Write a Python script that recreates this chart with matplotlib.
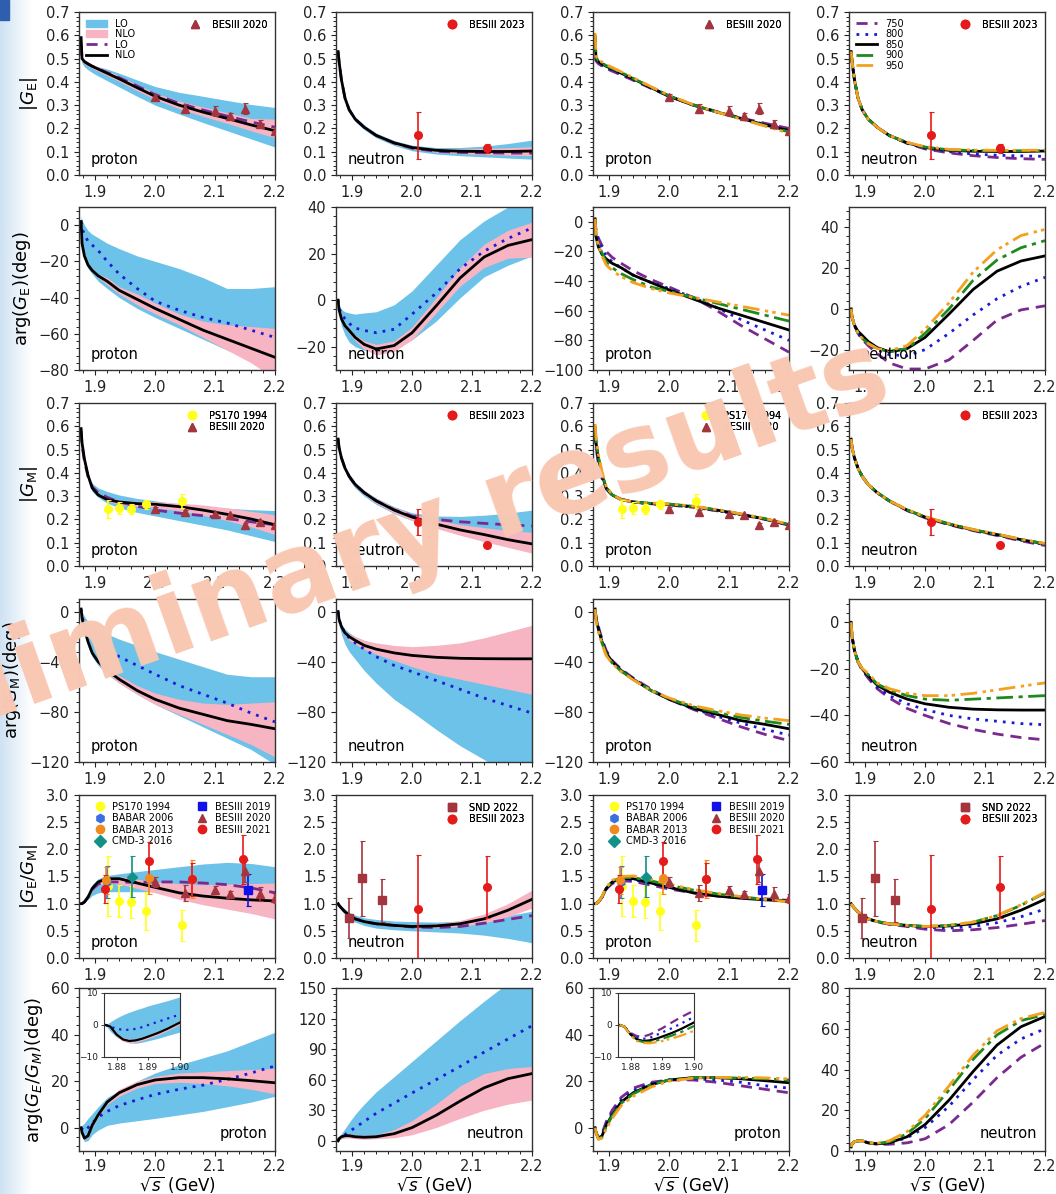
import matplotlib.pyplot as plt
import numpy as np
from matplotlib.lines import Line2D
from matplotlib.patches import Patch, Rectangle
from matplotlib.ticker import AutoMinorLocator

plt.rcParams['font.family'] = ['DejaVu Sans']

# energy nodes (GeV) where the model curves are tabulated
sqrt_s = [1.8765, 1.878, 1.882, 1.888, 1.895, 1.905, 1.92, 1.94, 1.97, 2.0, 2.04, 2.08, 2.12, 2.16, 2.2]
# finer nodes for the threshold insets
sqrt_s_near = [1.8765, 1.878, 1.88, 1.882, 1.884, 1.886, 1.888, 1.89, 1.893, 1.896, 1.9]
cutoffs = ['750', '800', '850', '900', '950']

# ---------------- |G_E| ----------------
ge_p_lo_band = ([0.50, 0.48, 0.465, 0.452, 0.440, 0.425, 0.405, 0.378, 0.338, 0.300, 0.262, 0.225, 0.190, 0.155, 0.120],
                [0.51, 0.49, 0.485, 0.478, 0.472, 0.465, 0.455, 0.437, 0.408, 0.380, 0.355, 0.338, 0.320, 0.303, 0.290])
ge_p_nlo_band = ([0.58, 0.49, 0.478, 0.468, 0.458, 0.446, 0.427, 0.402, 0.362, 0.325, 0.285, 0.252, 0.222, 0.190, 0.160],
                 [0.60, 0.51, 0.495, 0.486, 0.476, 0.465, 0.448, 0.425, 0.388, 0.352, 0.318, 0.292, 0.268, 0.243, 0.240])
ge_p_lo = [0.56, 0.50, 0.487, 0.477, 0.467, 0.456, 0.440, 0.418, 0.382, 0.345, 0.308, 0.279, 0.253, 0.228, 0.205]
ge_p_nlo = [0.59, 0.50, 0.487, 0.477, 0.467, 0.455, 0.437, 0.413, 0.375, 0.338, 0.300, 0.270, 0.243, 0.215, 0.190]
ge_p_cut = [
    [0.58, 0.49, 0.478, 0.468, 0.458, 0.446, 0.430, 0.407, 0.372, 0.338, 0.302, 0.272, 0.245, 0.222, 0.200],
    [0.58, 0.495, 0.482, 0.472, 0.462, 0.450, 0.433, 0.410, 0.374, 0.338, 0.300, 0.270, 0.243, 0.217, 0.193],
    ge_p_nlo,
    [0.60, 0.505, 0.49, 0.48, 0.47, 0.458, 0.44, 0.415, 0.377, 0.340, 0.301, 0.270, 0.242, 0.212, 0.185],
    [0.61, 0.51, 0.495, 0.485, 0.474, 0.462, 0.443, 0.418, 0.379, 0.342, 0.302, 0.270, 0.240, 0.210, 0.180],
]

ge_n_lo_band = ([0.52, 0.48, 0.40, 0.32, 0.27, 0.23, 0.195, 0.16, 0.127, 0.104, 0.090, 0.083, 0.078, 0.073, 0.068],
                [0.54, 0.50, 0.42, 0.34, 0.29, 0.25, 0.215, 0.18, 0.148, 0.128, 0.118, 0.118, 0.124, 0.135, 0.150])
ge_n_nlo_band = ([0.52, 0.485, 0.405, 0.325, 0.275, 0.235, 0.20, 0.165, 0.132, 0.111, 0.098, 0.092, 0.088, 0.085, 0.083],
                 [0.54, 0.495, 0.415, 0.335, 0.285, 0.245, 0.21, 0.175, 0.144, 0.125, 0.114, 0.112, 0.114, 0.117, 0.122])
ge_n_lo = [0.53, 0.49, 0.41, 0.33, 0.28, 0.24, 0.205, 0.17, 0.137, 0.115, 0.102, 0.097, 0.095, 0.094, 0.094]
ge_n_nlo = [0.53, 0.49, 0.41, 0.33, 0.28, 0.24, 0.205, 0.17, 0.138, 0.118, 0.106, 0.102, 0.101, 0.101, 0.103]
ge_n_cut = [
    [0.53, 0.49, 0.41, 0.33, 0.28, 0.24, 0.205, 0.17, 0.136, 0.112, 0.095, 0.083, 0.075, 0.070, 0.067],
    [0.53, 0.49, 0.41, 0.33, 0.28, 0.24, 0.205, 0.17, 0.137, 0.115, 0.100, 0.090, 0.085, 0.082, 0.080],
    ge_n_nlo,
    [0.53, 0.49, 0.41, 0.33, 0.28, 0.24, 0.205, 0.17, 0.139, 0.120, 0.108, 0.105, 0.104, 0.104, 0.104],
    [0.53, 0.49, 0.41, 0.33, 0.28, 0.24, 0.205, 0.17, 0.140, 0.121, 0.110, 0.107, 0.106, 0.106, 0.107],
]

# ---------------- arg(G_E) ----------------
pe_p_lo_band = ([0, -12, -19, -24, -27, -31, -35, -40, -46, -51, -57, -63, -69, -74, -78],
                [5, 3, 0, -3, -5, -7, -10, -13, -17, -20, -24, -29, -35, -35, -34])
pe_p_nlo_band = ([1, -11, -18, -23, -26, -29, -33, -38, -44, -49, -55, -62, -69, -76, -85],
                 [3, -9, -16, -21, -24, -27, -29, -34, -38, -43, -49, -53, -55, -56, -57])
pe_p_lo = [2, -2, -5, -9, -11, -14, -20, -27, -35, -42, -47, -51, -54, -58, -62]
pe_p_nlo = [2, -10, -17, -22, -25, -28, -31, -36, -41, -46, -52, -58, -63, -68, -73]
pe_p_cut = [
    [2, -6, -11, -16, -20, -24, -28, -33, -39, -44, -51, -60, -70, -79, -88],
    [2, -7, -12, -18, -23, -27, -31, -36, -41, -45, -51, -58, -66, -73, -80],
    pe_p_nlo,
    [2, -9, -15, -21, -27, -31, -35, -39, -44, -47, -51, -55, -59, -63, -67],
    [2, -10, -16, -23, -29, -33, -37, -41, -45, -48, -51, -54, -57, -60, -63],
]

pe_n_lo_band = ([0, -6, -11, -15, -18, -20, -21.5, -22, -21, -17, -9, 1, 10, 15, 19],
                [0, -2, -4, -5, -5.5, -6, -5.5, -5, -2, 4, 15, 26, 34, 40, 45])
pe_n_nlo_band = ([0, -5, -9, -12, -14, -17.5, -21, -23.5, -22, -17, -5.5, 6, 14, 18, 18.5],
                 [0, -3, -7, -10, -12, -15, -17.5, -19, -17.5, -11.5, 1, 14, 24, 30, 33.5])
pe_n_lo = [0, -3, -6, -8, -10, -12, -13, -14, -12.5, -6, 3, 13.5, 21, 26.5, 31]
pe_n_nlo = [0, -4, -8, -11, -13, -16, -19, -21, -19.5, -14, -2.5, 9.5, 18.5, 23.5, 26]
pe_n_cut = [
    [0, -4, -8, -12, -15, -18, -22, -26.5, -29.5, -29.5, -25, -15.5, -5.5, -0.5, 1.5],
    [0, -4, -8, -12, -14.5, -17, -20, -22.5, -23, -20, -12, -3, 5, 11, 15.5],
    pe_n_nlo,
    [0, -4, -8, -12, -14.5, -17, -19.5, -21, -19.5, -12, 0, 14, 24, 30, 33.5],
    [0, -4, -8, -12, -14.5, -17, -19.5, -20.5, -18, -10, 3, 18, 29, 36, 39],
]

# ---------------- |G_M| ----------------
gm_p_lo_band = ([0.57, 0.51, 0.44, 0.37, 0.32, 0.295, 0.27, 0.25, 0.23, 0.215, 0.195, 0.175, 0.155, 0.13, 0.105],
                [0.59, 0.53, 0.46, 0.395, 0.355, 0.335, 0.32, 0.305, 0.29, 0.28, 0.265, 0.255, 0.248, 0.242, 0.238])
gm_p_nlo_band = ([0.585, 0.525, 0.455, 0.385, 0.33, 0.30, 0.278, 0.265, 0.256, 0.25, 0.237, 0.218, 0.195, 0.168, 0.135],
                 [0.595, 0.535, 0.465, 0.395, 0.34, 0.31, 0.292, 0.283, 0.278, 0.276, 0.27, 0.262, 0.25, 0.235, 0.22])
gm_p_lo = [0.58, 0.52, 0.45, 0.385, 0.34, 0.315, 0.295, 0.275, 0.257, 0.24, 0.227, 0.216, 0.204, 0.19, 0.177]
gm_p_nlo = [0.59, 0.53, 0.46, 0.39, 0.335, 0.305, 0.285, 0.275, 0.268, 0.265, 0.255, 0.24, 0.222, 0.202, 0.177]
gm_p_cut = [
    [0.57, 0.51, 0.44, 0.375, 0.33, 0.305, 0.287, 0.275, 0.266, 0.262, 0.252, 0.237, 0.22, 0.2, 0.175],
    [0.58, 0.52, 0.45, 0.383, 0.333, 0.305, 0.286, 0.275, 0.267, 0.263, 0.253, 0.238, 0.221, 0.201, 0.176],
    gm_p_nlo,
    [0.60, 0.54, 0.47, 0.397, 0.338, 0.306, 0.285, 0.275, 0.269, 0.266, 0.256, 0.241, 0.223, 0.203, 0.178],
    [0.61, 0.55, 0.48, 0.405, 0.342, 0.307, 0.285, 0.275, 0.27, 0.267, 0.257, 0.242, 0.224, 0.204, 0.179],
]

gm_n_lo_band = ([0.54, 0.50, 0.455, 0.41, 0.37, 0.335, 0.30, 0.265, 0.225, 0.195, 0.165, 0.14, 0.12, 0.10, 0.085],
                [0.55, 0.52, 0.475, 0.43, 0.395, 0.36, 0.325, 0.292, 0.255, 0.228, 0.215, 0.213, 0.218, 0.227, 0.24])
gm_n_nlo_band = ([0.54, 0.505, 0.46, 0.415, 0.378, 0.342, 0.306, 0.27, 0.228, 0.196, 0.162, 0.132, 0.105, 0.08, 0.055],
                 [0.55, 0.515, 0.47, 0.425, 0.392, 0.358, 0.324, 0.29, 0.252, 0.224, 0.198, 0.178, 0.165, 0.152, 0.145])
gm_n_lo = [0.545, 0.51, 0.465, 0.42, 0.385, 0.35, 0.315, 0.28, 0.242, 0.215, 0.20, 0.19, 0.183, 0.177, 0.172]
gm_n_nlo = [0.545, 0.51, 0.465, 0.42, 0.385, 0.35, 0.315, 0.28, 0.24, 0.21, 0.18, 0.155, 0.135, 0.113, 0.095]
gm_n_cut = [
    [0.545, 0.51, 0.465, 0.42, 0.385, 0.35, 0.315, 0.28, 0.238, 0.207, 0.177, 0.152, 0.131, 0.108, 0.088],
    [0.545, 0.51, 0.465, 0.42, 0.385, 0.35, 0.315, 0.28, 0.239, 0.209, 0.179, 0.154, 0.133, 0.111, 0.092],
    gm_n_nlo,
    [0.545, 0.51, 0.465, 0.42, 0.385, 0.35, 0.315, 0.28, 0.241, 0.211, 0.181, 0.156, 0.136, 0.114, 0.096],
    [0.545, 0.51, 0.465, 0.42, 0.385, 0.35, 0.315, 0.28, 0.242, 0.212, 0.182, 0.157, 0.137, 0.115, 0.097],
]

# ---------------- arg(G_M) ----------------
pm_p_lo_band = ([0, -8, -18, -28, -36, -43, -50, -57, -66, -74, -83, -92, -101, -110, -122],
                [3, 0, -4, -8, -12, -15, -18, -22, -27, -32, -38, -44, -50, -52, -52])
pm_p_nlo_band = ([1, -6, -15, -25, -34, -42, -49, -57, -66, -74, -82, -90, -98, -106, -116],
                 [3, -4, -13, -23, -32, -38, -45, -51, -59, -65, -70, -73, -74, -73, -72])
pm_p_lo = [2, -4, -10, -16, -21, -26, -30, -36, -43, -50, -59, -66, -73, -81, -88]
pm_p_nlo = [2, -5, -14, -24, -33, -40, -47, -54, -63, -70, -77, -82, -87, -90, -93.5]
pm_p_cut = [
    [2, -4, -12, -22, -31, -39, -46, -53, -62, -70, -78, -85, -92, -98, -103],
    [2, -5, -13, -23, -32, -39.5, -46.5, -53.5, -62.5, -70, -77.5, -83.5, -89, -94, -98.5],
    pm_p_nlo,
    [2, -6, -15, -25, -34, -41, -47.5, -54, -63, -69.5, -76, -80.5, -84.5, -87.5, -90],
    [2, -7, -16, -26, -35, -41.5, -48, -54.5, -63, -69, -75, -79, -82.5, -85, -87],
]

pm_n_lo_band = ([0, -10, -18, -26, -32, -38, -47, -57, -70, -80, -94, -107, -118, -130, -140],
                [0, -5, -10, -14, -17, -20, -23, -26, -29, -32, -37, -44, -51, -58, -65])
pm_n_nlo_band = ([0, -7, -13, -19, -23, -26, -30, -34, -39, -44, -50, -54, -58, -62, -66],
                 [0, -5, -11, -16, -18, -20, -23, -25, -27, -28, -27, -25, -21, -16, -11])
pm_n_lo = [0, -6, -12, -17, -21, -25, -30, -36, -43, -48, -55, -62, -69, -75, -81]
pm_n_nlo = [0, -6, -12, -17, -20, -23, -27, -30, -33, -35, -36.5, -37.3, -37.6, -37.7, -37.7]
pm_n_cut = [
    [0, -6, -12, -17, -20.5, -24, -28.5, -32.5, -37, -40, -43.5, -46, -48, -49.5, -50.5],
    [0, -6, -12, -17, -20.3, -23.5, -28, -31.5, -35, -37.5, -40, -41.5, -42.5, -43.5, -44],
    pm_n_nlo,
    [0, -6, -12, -17, -20, -22.5, -26.5, -29, -31.5, -33, -33.5, -33, -32.5, -32, -31.5],
    [0, -6, -12, -17, -19.8, -22, -26, -28.5, -30.5, -31.5, -31.5, -30.5, -29, -27.5, -26],
]

# ---------------- |G_E/G_M| ----------------
r_p_lo_band = ([1.0, 1.0, 1.02, 1.08, 1.15, 1.2, 1.22, 1.22, 1.22, 1.22, 1.2, 1.15, 1.1, 1.05, 1.0],
               [1.0, 1.0, 1.04, 1.16, 1.35, 1.46, 1.52, 1.55, 1.59, 1.63, 1.68, 1.73, 1.76, 1.74, 1.68])
r_p_nlo_band = ([1.0, 1.0, 1.02, 1.1, 1.24, 1.34, 1.38, 1.36, 1.28, 1.2, 1.08, 0.98, 0.9, 0.82, 0.72],
                [1.0, 1.0, 1.04, 1.14, 1.3, 1.44, 1.5, 1.5, 1.45, 1.4, 1.37, 1.35, 1.36, 1.37, 1.38])
r_p_lo = [1.0, 1.0, 1.03, 1.12, 1.26, 1.36, 1.4, 1.4, 1.39, 1.4, 1.4, 1.38, 1.35, 1.29, 1.2]
r_p_nlo = [1.0, 1.0, 1.03, 1.12, 1.28, 1.4, 1.46, 1.46, 1.38, 1.3, 1.2, 1.14, 1.1, 1.07, 1.05]
r_p_cut = [
    [1.0, 1.0, 1.03, 1.12, 1.27, 1.37, 1.42, 1.41, 1.34, 1.27, 1.2, 1.14, 1.11, 1.09, 1.06],
    [1.0, 1.0, 1.03, 1.12, 1.27, 1.38, 1.44, 1.44, 1.37, 1.3, 1.21, 1.15, 1.11, 1.08, 1.05],
    r_p_nlo,
    [1.0, 1.0, 1.03, 1.13, 1.29, 1.41, 1.48, 1.48, 1.42, 1.34, 1.25, 1.18, 1.12, 1.08, 1.04],
    [1.0, 1.0, 1.03, 1.13, 1.3, 1.43, 1.5, 1.51, 1.45, 1.36, 1.26, 1.19, 1.13, 1.08, 1.03],
]

r_n_lo_band = ([1.0, 0.95, 0.88, 0.8, 0.73, 0.66, 0.6, 0.55, 0.52, 0.5, 0.48, 0.46, 0.42, 0.36, 0.28],
               [1.0, 0.99, 0.95, 0.9, 0.84, 0.79, 0.74, 0.71, 0.68, 0.67, 0.66, 0.68, 0.72, 0.78, 0.86])
r_n_nlo_band = ([1.0, 0.96, 0.91, 0.84, 0.78, 0.71, 0.66, 0.62, 0.58, 0.56, 0.56, 0.58, 0.64, 0.76, 0.92],
                [1.0, 0.98, 0.93, 0.86, 0.8, 0.73, 0.68, 0.64, 0.62, 0.61, 0.63, 0.69, 0.81, 1.0, 1.25])
r_n_lo = [1.0, 0.97, 0.92, 0.85, 0.79, 0.72, 0.67, 0.63, 0.6, 0.57, 0.56, 0.58, 0.64, 0.71, 0.78]
r_n_nlo = [1.0, 0.97, 0.92, 0.85, 0.79, 0.72, 0.67, 0.63, 0.6, 0.58, 0.59, 0.63, 0.72, 0.88, 1.08]
r_n_cut = [
    [1.0, 0.97, 0.92, 0.85, 0.79, 0.72, 0.665, 0.62, 0.58, 0.53, 0.5, 0.52, 0.56, 0.62, 0.69],
    [1.0, 0.97, 0.92, 0.85, 0.79, 0.72, 0.665, 0.625, 0.59, 0.56, 0.55, 0.58, 0.65, 0.76, 0.9],
    r_n_nlo,
    [1.0, 0.97, 0.92, 0.85, 0.79, 0.72, 0.67, 0.63, 0.6, 0.58, 0.6, 0.66, 0.78, 0.97, 1.2],
    [1.0, 0.97, 0.92, 0.85, 0.79, 0.72, 0.67, 0.63, 0.6, 0.58, 0.6, 0.66, 0.78, 0.98, 1.21],
]

# ---------------- arg(G_E/G_M) ----------------
pr_p_lo_band = ([0, -3, -6, -5.5, -3, -1, 1, 2, 3, 4, 5.5, 7, 9, 11, 13.5],
                [0, 1, 2, 4, 6, 9, 13, 16, 20, 23.5, 27, 30, 33, 37, 41])
pr_p_nlo_band = ([0, -2.5, -5, -4, 0, 4.5, 10, 13.5, 17, 19, 19.5, 19, 18, 16.5, 14.5],
                 [0, -1.5, -4, -3, 2, 6.5, 12, 16.5, 20, 22, 23.5, 24, 24.5, 25, 25.5])
pr_p_lo = [0, -0.5, -1.5, 0, 2, 4.5, 7, 9.5, 12, 14.3, 16.5, 18.3, 20.7, 23.5, 26.5]
pr_p_nlo = [0, -2, -4.5, -3.5, 1, 5.5, 11, 15, 18.5, 20.5, 21.5, 21.5, 21, 20.2, 19.3]
pr_p_cut = [
    [0, -2, -4, -2.5, 2.5, 7.5, 13, 17, 19.5, 20.5, 20.5, 19.5, 18, 16.5, 15],
    [0, -2, -4.2, -3, 1.7, 6.5, 12, 16, 19, 20.5, 21, 20.5, 19.5, 18, 17],
    pr_p_nlo,
    [0, -2, -4.8, -4, 0.5, 5, 10.5, 14.5, 18.5, 20.5, 21.5, 21.5, 21.3, 21, 20.5],
    [0, -2, -5, -4.5, -0.5, 4, 9.5, 13.5, 17.5, 20, 21.3, 21.6, 21.6, 21.4, 21],
]
# threshold region of the proton phase
pr_p_near_lo_band = ([0, -2, -3.8, -5, -5.6, -5.7, -5.4, -4.9, -4.2, -3.3, -2.2],
                     [0, 1, 2.2, 3.2, 4, 4.7, 5.3, 6, 6.8, 7.6, 8.8])
pr_p_near_nlo_band = ([0, -1, -3.6, -5.1, -5.6, -5.4, -4.9, -4.2, -3.1, -1.8, 0.2],
                      [0, 0, -2.4, -3.9, -4.4, -4.2, -3.7, -3.0, -1.9, -0.6, 1.4])
pr_p_near_lo = [0, -0.5, -1.2, -1.5, -1.5, -1.2, -0.7, 0, 1, 2, 3.3]
pr_p_near_nlo = [0, -0.5, -3, -4.5, -5, -4.8, -4.3, -3.6, -2.5, -1.2, 0.8]
pr_p_near_cut = [
    [0, -0.5, -2.5, -3.5, -3.6, -3, -2, -1, 0.8, 2.5, 4.5],
    [0, -0.5, -2.8, -4, -4.3, -4, -3.2, -2.3, -1, 0.5, 2.5],
    pr_p_near_nlo,
    [0, -0.5, -3.2, -4.8, -5.3, -5.3, -4.9, -4.3, -3.3, -2.2, -0.3],
    [0, -0.5, -3.3, -5, -5.6, -5.7, -5.4, -5, -4.2, -3.3, -1.8],
]

pr_n_lo_band = ([0, 1, 2, 3, 3, 3, 3.5, 4, 8, 14, 27, 40, 52, 62, 70],
                [0, 3, 7, 12, 18, 26, 36, 48, 63, 78, 98, 118, 137, 155, 170])
pr_n_nlo_band = ([0, 1, 2, 3, 3, 2, 1.5, 2, 3, 6, 13, 22, 30, 36, 40],
                 [0, 3, 6, 7, 7, 6, 5.5, 6, 11, 20, 36, 54, 66, 71, 73])
pr_n_lo = [0, 2, 4, 6, 9, 13, 19, 27, 37, 47, 60, 73, 87, 100, 113]
pr_n_nlo = [0, 2, 4, 5, 5, 4, 3.5, 4, 7, 13, 25, 39, 52, 61, 66]
pr_n_cut = [
    [2, 3.5, 4.5, 5, 5, 4, 3.3, 3.3, 4, 6, 13, 24, 36, 46, 53],
    [2, 3.5, 4.5, 5, 5, 4, 3.5, 4, 6.5, 11.5, 22, 35, 47, 55, 60],
    [2, 3.5, 4.5, 5, 5, 4, 3.5, 4, 7, 13, 25, 39, 52, 61, 66],
    [2, 3.5, 4.5, 5, 5, 4, 3.7, 4.5, 8.5, 16, 30, 45, 57, 64, 67],
    [2, 3.5, 4.5, 5, 5, 4, 3.8, 5, 9.5, 17.5, 32, 47, 59, 65, 68],
]

# ---------------- measurements ----------------
besiii2020_x = [2.0, 2.05, 2.1, 2.125, 2.15, 2.175, 2.2]
besiii2020_ge = [0.335, 0.285, 0.275, 0.255, 0.285, 0.22, 0.19]
besiii2020_ge_err = [0.015, 0.02, 0.02, 0.012, 0.025, 0.015, 0.015]
besiii2020_gm = [0.245, 0.232, 0.222, 0.218, 0.175, 0.19, 0.177]
besiii2020_gm_err = [0.01, 0.008, 0.006, 0.005, 0.008, 0.006, 0.006]
besiii2020_ratio = [1.4, 1.2, 1.25, 1.18, 1.6, 1.18, 1.1]
besiii2020_ratio_err = [0.1, 0.15, 0.07, 0.05, 0.2, 0.13, 0.08]

besiii2023_x = [2.0096, 2.125]
besiii2023_ge = [0.17, 0.115]
besiii2023_ge_err = [0.1, 0.02]
besiii2023_gm = [0.19, 0.09]
besiii2023_gm_err = [0.055, 0.01]
besiii2023_ratio = [0.9, 1.3]
besiii2023_ratio_err = [1.0, 0.57]

ps170_x = [1.921, 1.94, 1.96, 1.985, 2.045]
ps170_gm = [0.245, 0.25, 0.245, 0.265, 0.28]
ps170_gm_err = [0.04, 0.025, 0.02, 0.02, 0.03]
ps170_ratio = [1.32, 1.05, 1.03, 0.86, 0.6]
ps170_ratio_err = [0.55, 0.3, 0.3, 0.35, 0.28]

babar2006_x = [1.92]
babar2006_ratio = [1.4]
babar2006_ratio_err = [0.3]

babar2013_x = [1.918, 1.99, 2.062]
babar2013_ratio = [1.43, 1.48, 1.45]
babar2013_ratio_err = [0.25, 0.3, 0.35]

cmd3_x = [1.962]
cmd3_ratio = [1.5]
cmd3_ratio_err = [0.38]

besiii2019_x = [2.155]
besiii2019_ratio = [1.25]
besiii2019_ratio_err = [0.3]

besiii2021_x = [1.917, 1.989, 2.061, 2.146]
besiii2021_ratio = [1.27, 1.78, 1.45, 1.82]
besiii2021_ratio_err = [0.25, 0.35, 0.3, 0.45]

snd2022_x = [1.894, 1.916, 1.95]
snd2022_ratio = [0.73, 1.47, 1.06]
snd2022_ratio_err = [0.37, 0.69, 0.39]

# ---------------- styles ----------------
C_LO_BAND = '#6cc2e8'
C_NLO_BAND = '#f7b4c3'
LO_DASHED = dict(color='#7a2a8f', lw=2, ls=(0, (4, 2.5)))
LO_DOTTED = dict(color='#1a1ad8', lw=2, ls=(0, (1, 2.2)))
NLO_SOLID = dict(color='black', lw=2, ls='-')
CUT_STYLE = {
    '750': LO_DASHED,
    '800': LO_DOTTED,
    '850': NLO_SOLID,
    '900': dict(color='#1e8a1e', lw=2, ls=(0, (6, 2, 1.5, 2))),
    '950': dict(color='#f5a01e', lw=2, ls=(0, (6, 2, 1.2, 1.5, 1.2, 2))),
}
EXP_STYLE = {
    'PS170 1994': dict(marker='o', color='#ffff1a'),
    'BABAR 2006': dict(marker='h', color='#3a6fe0'),
    'BABAR 2013': dict(marker='o', color='#f08a1c'),
    'CMD-3 2016': dict(marker='D', color='#119188'),
    'BESIII 2019': dict(marker='s', color='#1010e8'),
    'BESIII 2020': dict(marker='^', color='#a3353f'),
    'BESIII 2021': dict(marker='o', color='#e51a1a'),
    'SND 2022': dict(marker='s', color='#a3353f'),
    'BESIII 2023': dict(marker='o', color='#e51a1a'),
}

W, H = 1056, 1194
fig = plt.figure(figsize=(W / 100, H / 100), dpi=100)

# light slide background strip on the left edge
bg = fig.add_axes([0, 0, 32 / W, 1])
grad = np.linspace(0, 1, 64)[None, :]
bg.imshow(grad, aspect='auto', cmap=plt.matplotlib.colors.LinearSegmentedColormap.from_list(
    'edge', ['#cfe2f4', '#ffffff']), extent=[0, 1, 0, 1])
bg.set_axis_off()
fig.patches.append(Rectangle((0, 1 - 20 / H), 9 / W, 20 / H, transform=fig.transFigure,
                             color='#2d5fae', zorder=1))

col_left = [79, 336, 593, 849]
row_top = [12, 207, 403, 599, 795, 988]
ax_w, ax_h = 196, 163


def make_axes(r, c):
    return fig.add_axes([col_left[c] / W, 1 - (row_top[r] + ax_h) / H, ax_w / W, ax_h / H])


def style_axes(ax, ylim, yticks):
    ax.set_xlim(1.873, 2.2)
    ax.set_ylim(*ylim)
    ax.set_xticks([1.9, 2.0, 2.1, 2.2])
    ax.set_yticks(yticks)
    ax.xaxis.set_minor_locator(AutoMinorLocator(5))
    ax.yaxis.set_minor_locator(AutoMinorLocator(5))
    ax.tick_params(labelsize=10.5, colors='#222222', length=3.5, width=0.8)
    ax.tick_params(which='minor', length=2, width=0.6)
    for s in ax.spines.values():
        s.set_color('#333333')
        s.set_linewidth(1.0)


def draw_model(ax, x, lo_band, nlo_band, lo, nlo, lo_style):
    ax.fill_between(x, lo_band[0], lo_band[1], color=C_LO_BAND, lw=0)
    ax.fill_between(x, nlo_band[0], nlo_band[1], color=C_NLO_BAND, lw=0)
    ax.plot(x, lo, **lo_style)
    ax.plot(x, nlo, **NLO_SOLID)


def draw_cutoffs(ax, x, curves):
    for name, y in zip(cutoffs, curves):
        ax.plot(x, y, **CUT_STYLE[name])


def draw_points(ax, name, x, y, err):
    st = EXP_STYLE[name]
    ax.errorbar(x, y, yerr=err, fmt=st['marker'], color=st['color'], ms=5.5,
                capsize=1.8, elinewidth=1.2, capthick=0.8, zorder=6)


def exp_legend(ax, names, loc='upper right', ncol=1, **kw):
    handles = [Line2D([], [], ls='none', ms=6, **EXP_STYLE[n]) for n in names]
    leg = ax.legend(handles, names, loc=loc, ncol=ncol, fontsize=7, frameon=False,
                    handlelength=1.0, handletextpad=1.2, labelspacing=0.15,
                    borderaxespad=0.4, **kw)
    ax.add_artist(leg)
    return leg


def cut_legend(ax):
    handles = [Line2D([], [], **CUT_STYLE[n]) for n in cutoffs]
    leg = ax.legend(handles, cutoffs, loc='upper left', fontsize=7, frameon=False,
                    handlelength=2.2, labelspacing=0.05, borderaxespad=0.3)
    ax.add_artist(leg)


def tag(ax, text, right=False):
    if right:
        ax.text(0.96, 0.06, text, transform=ax.transAxes, ha='right', va='bottom', fontsize=10.5)
    else:
        ax.text(0.06, 0.05, text, transform=ax.transAxes, ha='left', va='bottom', fontsize=10.5)


x = sqrt_s
g_ticks = np.arange(0, 0.71, 0.1)
r_ticks = np.arange(0, 3.01, 0.5)

# row 1: |G_E|
ax = make_axes(0, 0)
draw_model(ax, x, ge_p_lo_band, ge_p_nlo_band, ge_p_lo, ge_p_nlo, LO_DASHED)
draw_points(ax, 'BESIII 2020', besiii2020_x, besiii2020_ge, besiii2020_ge_err)
style_axes(ax, (0, 0.7), g_ticks)
ax.set_ylabel(r'$|G_{\rm E}|$', fontsize=13)
model_handles = [Patch(color=C_LO_BAND), Patch(color=C_NLO_BAND),
                 Line2D([], [], **LO_DASHED), Line2D([], [], **NLO_SOLID)]
ax.add_artist(ax.legend(model_handles, ['LO', 'NLO', 'LO', 'NLO'], loc='upper left', fontsize=7,
                        frameon=False, handlelength=2.2, labelspacing=0.05, borderaxespad=0.3))
exp_legend(ax, ['BESIII 2020'])
tag(ax, 'proton')

ax = make_axes(0, 1)
draw_model(ax, x, ge_n_lo_band, ge_n_nlo_band, ge_n_lo, ge_n_nlo, LO_DASHED)
draw_points(ax, 'BESIII 2023', besiii2023_x, besiii2023_ge, besiii2023_ge_err)
style_axes(ax, (0, 0.7), g_ticks)
exp_legend(ax, ['BESIII 2023'])
tag(ax, 'neutron')

ax = make_axes(0, 2)
draw_cutoffs(ax, x, ge_p_cut)
draw_points(ax, 'BESIII 2020', besiii2020_x, besiii2020_ge, besiii2020_ge_err)
style_axes(ax, (0, 0.7), g_ticks)
exp_legend(ax, ['BESIII 2020'])
tag(ax, 'proton')

ax = make_axes(0, 3)
draw_cutoffs(ax, x, ge_n_cut)
draw_points(ax, 'BESIII 2023', besiii2023_x, besiii2023_ge, besiii2023_ge_err)
style_axes(ax, (0, 0.7), g_ticks)
cut_legend(ax)
exp_legend(ax, ['BESIII 2023'])
tag(ax, 'neutron')

# row 2: arg(G_E)
ax = make_axes(1, 0)
draw_model(ax, x, pe_p_lo_band, pe_p_nlo_band, pe_p_lo, pe_p_nlo, LO_DOTTED)
style_axes(ax, (-80, 10), np.arange(-80, 1, 20))
ax.set_ylabel(r'arg($G_{\rm E}$)(deg)', fontsize=13)
tag(ax, 'proton')

ax = make_axes(1, 1)
draw_model(ax, x, pe_n_lo_band, pe_n_nlo_band, pe_n_lo, pe_n_nlo, LO_DOTTED)
style_axes(ax, (-30, 40), np.arange(-20, 41, 20))
tag(ax, 'neutron')

ax = make_axes(1, 2)
draw_cutoffs(ax, x, pe_p_cut)
style_axes(ax, (-100, 10), np.arange(-100, 1, 20))
tag(ax, 'proton')

ax = make_axes(1, 3)
draw_cutoffs(ax, x, pe_n_cut)
style_axes(ax, (-30, 50), np.arange(-20, 41, 20))
tag(ax, 'neutron')

# row 3: |G_M|
ax = make_axes(2, 0)
draw_model(ax, x, gm_p_lo_band, gm_p_nlo_band, gm_p_lo, gm_p_nlo, LO_DASHED)
draw_points(ax, 'PS170 1994', ps170_x, ps170_gm, ps170_gm_err)
draw_points(ax, 'BESIII 2020', besiii2020_x, besiii2020_gm, besiii2020_gm_err)
style_axes(ax, (0, 0.7), g_ticks)
ax.set_ylabel(r'$|G_{\rm M}|$', fontsize=13)
exp_legend(ax, ['PS170 1994', 'BESIII 2020'])
tag(ax, 'proton')

ax = make_axes(2, 1)
draw_model(ax, x, gm_n_lo_band, gm_n_nlo_band, gm_n_lo, gm_n_nlo, LO_DASHED)
draw_points(ax, 'BESIII 2023', besiii2023_x, besiii2023_gm, besiii2023_gm_err)
style_axes(ax, (0, 0.7), g_ticks)
exp_legend(ax, ['BESIII 2023'])
tag(ax, 'neutron')

ax = make_axes(2, 2)
draw_cutoffs(ax, x, gm_p_cut)
draw_points(ax, 'PS170 1994', ps170_x, ps170_gm, ps170_gm_err)
draw_points(ax, 'BESIII 2020', besiii2020_x, besiii2020_gm, besiii2020_gm_err)
style_axes(ax, (0, 0.7), g_ticks)
exp_legend(ax, ['PS170 1994', 'BESIII 2020'])
tag(ax, 'proton')

ax = make_axes(2, 3)
draw_cutoffs(ax, x, gm_n_cut)
draw_points(ax, 'BESIII 2023', besiii2023_x, besiii2023_gm, besiii2023_gm_err)
style_axes(ax, (0, 0.7), g_ticks)
exp_legend(ax, ['BESIII 2023'])
tag(ax, 'neutron')

# row 4: arg(G_M)
ax = make_axes(3, 0)
draw_model(ax, x, pm_p_lo_band, pm_p_nlo_band, pm_p_lo, pm_p_nlo, LO_DOTTED)
style_axes(ax, (-120, 10), np.arange(-120, 1, 40))
ax.set_ylabel(r'arg($G_{\rm M}$)(deg)', fontsize=13)
tag(ax, 'proton')

ax = make_axes(3, 1)
draw_model(ax, x, pm_n_lo_band, pm_n_nlo_band, pm_n_lo, pm_n_nlo, LO_DOTTED)
style_axes(ax, (-120, 10), np.arange(-120, 1, 40))
tag(ax, 'neutron')

ax = make_axes(3, 2)
draw_cutoffs(ax, x, pm_p_cut)
style_axes(ax, (-120, 10), np.arange(-120, 1, 40))
tag(ax, 'proton')

ax = make_axes(3, 3)
draw_cutoffs(ax, x, pm_n_cut)
style_axes(ax, (-60, 10), np.arange(-60, 1, 20))
tag(ax, 'neutron')

# row 5: |G_E/G_M|
proton_sets = [
    ('PS170 1994', ps170_x, ps170_ratio, ps170_ratio_err),
    ('BABAR 2006', babar2006_x, babar2006_ratio, babar2006_ratio_err),
    ('BABAR 2013', babar2013_x, babar2013_ratio, babar2013_ratio_err),
    ('CMD-3 2016', cmd3_x, cmd3_ratio, cmd3_ratio_err),
    ('BESIII 2019', besiii2019_x, besiii2019_ratio, besiii2019_ratio_err),
    ('BESIII 2020', besiii2020_x, besiii2020_ratio, besiii2020_ratio_err),
    ('BESIII 2021', besiii2021_x, besiii2021_ratio, besiii2021_ratio_err),
]
neutron_sets = [
    ('SND 2022', snd2022_x, snd2022_ratio, snd2022_ratio_err),
    ('BESIII 2023', besiii2023_x, besiii2023_ratio, besiii2023_ratio_err),
]
proton_legend = ['PS170 1994', 'BABAR 2006', 'BABAR 2013', 'CMD-3 2016',
                 'BESIII 2019', 'BESIII 2020', 'BESIII 2021']

for c in range(4):
    ax = make_axes(4, c)
    if c == 0:
        draw_model(ax, x, r_p_lo_band, r_p_nlo_band, r_p_lo, r_p_nlo, LO_DASHED)
    elif c == 1:
        draw_model(ax, x, r_n_lo_band, r_n_nlo_band, r_n_lo, r_n_nlo, LO_DASHED)
    elif c == 2:
        draw_cutoffs(ax, x, r_p_cut)
    else:
        draw_cutoffs(ax, x, r_n_cut)
    sets = proton_sets if c % 2 == 0 else neutron_sets
    for name, px, py, pe in sets:
        draw_points(ax, name, px, py, pe)
    style_axes(ax, (0, 3), r_ticks)
    if c % 2 == 0:
        handles = [Line2D([], [], ls='none', ms=6, **EXP_STYLE[n]) for n in proton_legend]
        handles.append(Line2D([], [], ls='none'))
        labels = proton_legend + ['']
        ax.legend(handles, labels, loc='upper left', bbox_to_anchor=(0.046, 1.0), ncol=2,
                  fontsize=7, frameon=False, handlelength=1.0, handletextpad=0.8,
                  labelspacing=0.15, columnspacing=2.4, borderaxespad=0.3)
        tag(ax, 'proton')
    else:
        exp_legend(ax, ['SND 2022', 'BESIII 2023'])
        tag(ax, 'neutron')
    if c == 0:
        ax.set_ylabel(r'$|G_{\rm E}/G_{\rm M}|$', fontsize=13)

# row 6: arg(G_E/G_M)
for c in range(4):
    ax = make_axes(5, c)
    if c == 0:
        draw_model(ax, x, pr_p_lo_band, pr_p_nlo_band, pr_p_lo, pr_p_nlo, LO_DOTTED)
        style_axes(ax, (-10, 60), np.arange(0, 61, 20))
        ax.set_ylabel(r'arg($G_E/G_M$)(deg)', fontsize=13)
    elif c == 1:
        draw_model(ax, x, pr_n_lo_band, pr_n_nlo_band, pr_n_lo, pr_n_nlo, LO_DOTTED)
        style_axes(ax, (-10, 150), np.arange(0, 151, 30))
    elif c == 2:
        draw_cutoffs(ax, x, pr_p_cut)
        style_axes(ax, (-10, 60), np.arange(0, 61, 20))
    else:
        draw_cutoffs(ax, x, pr_n_cut)
        style_axes(ax, (0, 80), np.arange(0, 81, 20))
    ax.tick_params(axis='x', pad=2)
    ax.set_xlabel(r'$\sqrt{s}$ (GeV)', fontsize=12, labelpad=0)
    tag(ax, 'proton' if c % 2 == 0 else 'neutron', right=True)

    if c % 2 == 0:
        ins = fig.add_axes([(col_left[c] + 25) / W, 1 - (row_top[5] + 5 + 64) / H, 76 / W, 64 / H])
        if c == 0:
            draw_model(ins, sqrt_s_near, pr_p_near_lo_band, pr_p_near_nlo_band,
                       pr_p_near_lo, pr_p_near_nlo, LO_DOTTED)
        else:
            draw_cutoffs(ins, sqrt_s_near, pr_p_near_cut)
        ins.set_xlim(1.876, 1.90)
        ins.set_ylim(-10, 10)
        ins.set_xticks([1.88, 1.89, 1.90])
        ins.set_xticklabels(['1.88', '1.89', '1.90'])
        ins.set_yticks([-10, 0, 10])
        ins.tick_params(labelsize=6.5, length=2.5, width=0.6, pad=1.5, colors='#222222')
        for s in ins.spines.values():
            s.set_color('#333333')
        for ln in ins.lines:
            ln.set_linewidth(1.6)

# watermark
fig.text(0.848, 0.666, 'Preliminary results', fontsize=78, fontweight='bold', color='#f8c8b3',
         rotation=19.5, rotation_mode='anchor', ha='right', va='baseline', zorder=20)

fig.savefig('out.png', dpi=100)
